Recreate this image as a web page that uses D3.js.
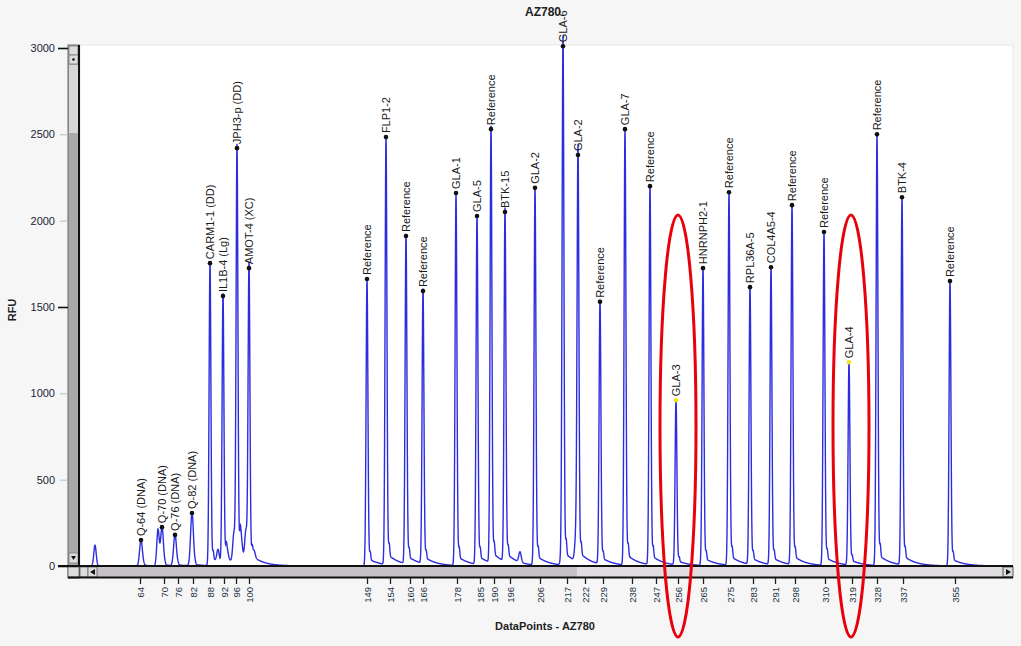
<!DOCTYPE html>
<html>
<head>
<meta charset="utf-8">
<script src="https://cdn.jsdelivr.net/npm/d3@7"></script>
<style>
  body { margin: 0; background: #f6f6f6; }
  text { font-family: "Liberation Sans", Arial, sans-serif; }
</style>
</head>
<body>
<svg width="1021" height="646"></svg>
<script>
// labelled peaks: name, position in data points, height in RFU
const peakNames = ["Q-64 (DNA)", "Q-70 (DNA)", "Q-76 (DNA)", "Q-82 (DNA)", "CARM1-1 (DD)", "IL1B-4 (Lg)", "JPH3-p (DD)", "AMOT-4 (XC)",
  "Reference", "FLP1-2", "Reference", "Reference", "GLA-1", "GLA-5", "Reference", "BTK-15", "GLA-2", "GLA-6", "GLA-2",
  "Reference", "GLA-7", "Reference", "GLA-3", "HNRNPH2-1", "Reference", "RPL36A-5", "COL4A5-4", "Reference",
  "Reference", "GLA-4", "Reference", "BTK-4", "Reference"]
const peakDP = [305, 410, 475, 560, 650, 715, 785, 845,
  1435, 1530, 1630, 1715, 1880, 1985, 2055, 2125, 2275, 2415, 2490,
  2600, 2725, 2850, 2980, 3115, 3245, 3350, 3455, 3560,
  3720, 3845, 3985, 4110, 4350]
const peakRFU = [150, 225, 180, 307, 1754, 1563, 2420, 1725,
  1662, 2484, 1911, 1592, 2160, 2027, 2530, 2050, 2190, 3010, 2380,
  1530, 2530, 2200, 960, 1725, 2165, 1615, 1730, 2090,
  1934, 1180, 2500, 2136, 1650]
// peaks flagged with a yellow marker
const flagged = ["GLA-3", "GLA-4"]

// small unlabelled peaks
const minorDP = [75, 390, 690, 735, 770, 805, 830, 870, 2200, 2410, 2480]
const minorRFU = [120, 210, 70, 60, 170, 120, 170, 40, 60, 80, 150]

// size-standard ticks on the DataPoints axis
const sizeLabels = ["64", "70", "76", "82", "88", "92", "96", "100", "149", "154", "160", "166", "178", "185", "190", "196",
  "206", "217", "222", "229", "238", "247", "256", "265", "275", "283", "291", "298", "310", "319", "328", "337", "355"]
const sizeDP = [300, 420, 490, 565, 650, 720, 780, 845, 1435, 1550, 1650, 1715, 1885, 2000, 2070, 2150,
  2300, 2435, 2525, 2615, 2760, 2880, 2990, 3115, 3250, 3365, 3475, 3575, 3725, 3860, 3985, 4115, 4375]

const yTicks = [0, 500, 1000, 1500, 2000, 2500, 3000]
const yMajor = [0, 1500, 3000]

const svg = d3.select("svg")
const pLeft = 80, pRight = 1013, pTop = 45, base = 566

const x = d3.scaleLinear().domain([0, 4665]).range([pLeft, pRight])
const y = d3.scaleLinear().domain([0, 3000]).range([base, 48])

// plot area
svg.append("rect").attr("x", pLeft).attr("y", pTop).attr("width", pRight - pLeft).attr("height", base - pTop)
  .attr("fill", "#fff").attr("stroke", "#e6e6e6")

// trace built from the peaks
const peaks = peakDP.map((d, i) => ({ dp: d, h: peakRFU[i], s: i < 4 ? 7 : 4.5, tail: true }))
  .concat(minorDP.map((d, i) => ({ dp: d, h: minorRFU[i], s: 6, tail: false })))

function signal(p) {
  let v = 0
  peaks.forEach(pk => {
    const d = p - pk.dp
    v += pk.h * Math.exp(-d * d / (2 * pk.s * pk.s))
    if (pk.tail && d > 0) {
      v += pk.h * 0.03 * (1 - Math.exp(-d / 8)) * Math.exp(-d / 55)
      v += pk.h * 0.03 * Math.exp(-(d - 16) * (d - 16) / 18)
    }
  })
  return v
}
const trace = d3.range(0, 4660, 1).map(p => [p, signal(p)])

svg.append("path")
  .datum(trace)
  .attr("fill", "none")
  .attr("stroke", "#2c2ce0")
  .attr("stroke-width", 1.4)
  .attr("d", d3.line().x(d => x(d[0])).y(d => y(d[1])))

// peak markers and names
const g = svg.append("g")
const pk = g.selectAll("g.peak").data(peakNames).join("g").attr("class", "peak")
pk.append("circle")
  .attr("cx", (d, i) => x(peakDP[i]))
  .attr("cy", (d, i) => y(peakRFU[i]))
  .attr("r", 2.3)
  .attr("fill", d => flagged.includes(d) ? "#f2e21a" : "#111")
pk.append("text")
  .attr("transform", (d, i) => "translate(" + x(peakDP[i]) + "," + (y(peakRFU[i]) - 4) + ") rotate(-90)")
  .attr("dy", "0.35em")
  .attr("font-size", "11px")
  .attr("fill", "#1a1a1a")
  .text(d => d)

// left scrollbar
svg.append("rect").attr("x", 68).attr("y", pTop).attr("width", 11).attr("height", base - pTop + 12)
  .attr("fill", "#a9a9a9").attr("stroke", "#666")
svg.append("rect").attr("x", 69).attr("y", 65).attr("width", 9).attr("height", 68).attr("fill", "#d6d6d6")
svg.append("rect").attr("x", 69).attr("y", 46).attr("width", 9).attr("height", 9).attr("fill", "#ddd").attr("stroke", "#888")
svg.append("rect").attr("x", 69).attr("y", 55).attr("width", 9).attr("height", 9).attr("fill", "#ddd").attr("stroke", "#888")
svg.append("circle").attr("cx", 73.5).attr("cy", 59.5).attr("r", 1.3).attr("fill", "#111")
svg.append("rect").attr("x", 69).attr("y", 553).attr("width", 9).attr("height", 10).attr("fill", "#ddd").attr("stroke", "#888")
svg.append("path").attr("d", "M71,556 L76,556 L73.5,560 Z").attr("fill", "#111")
svg.append("line").attr("x1", 79).attr("x2", 79).attr("y1", pTop).attr("y2", 578).attr("stroke", "#111").attr("stroke-width", 2)

// bottom scrollbar
svg.append("rect").attr("x", pLeft).attr("y", base + 1).attr("width", pRight - pLeft).attr("height", 10).attr("fill", "#e0dde0")
svg.append("rect").attr("x", 97).attr("y", base + 1).attr("width", 480).attr("height", 10).attr("fill", "#c4c2c6")
svg.append("rect").attr("x", 68).attr("y", base + 1).attr("width", 11).attr("height", 10).attr("fill", "#ddd").attr("stroke", "#777")
svg.append("rect").attr("x", 80).attr("y", base + 1).attr("width", 8).attr("height", 10).attr("fill", "#ddd").attr("stroke", "#777")
svg.append("rect").attr("x", 88).attr("y", base + 1).attr("width", 9).attr("height", 10).attr("fill", "#ddd").attr("stroke", "#777")
svg.append("path").attr("d", "M95,569 L95,575 L90,572 Z").attr("fill", "#111")
svg.append("rect").attr("x", pRight - 10).attr("y", base + 1).attr("width", 10).attr("height", 10).attr("fill", "#ddd").attr("stroke", "#555")
svg.append("path").attr("d", "M1006,569 L1006,575 L1011,572 Z").attr("fill", "#111")
svg.append("line").attr("x1", 58).attr("x2", pRight).attr("y1", base).attr("y2", base).attr("stroke", "#111").attr("stroke-width", 2)
svg.append("line").attr("x1", 68).attr("x2", pRight).attr("y1", base + 11.5).attr("y2", base + 11.5).attr("stroke", "#111").attr("stroke-width", 2)

// y axis
const ya = svg.append("g").attr("transform", "translate(68,0)")
  .call(d3.axisLeft(y).tickValues(yTicks).tickFormat(d3.format("d")).tickSize(10).tickPadding(3))
ya.select(".domain").remove()
ya.selectAll(".tick line")
  .attr("stroke", d => yMajor.includes(d) ? "#111" : "#bbb")
  .attr("stroke-width", d => yMajor.includes(d) ? 1.6 : 1)
  .attr("x2", d => yMajor.includes(d) ? -10 : -8)
ya.selectAll(".tick text").attr("font-size", "11px").attr("fill", "#223").attr("font-family", "Liberation Sans, Arial, sans-serif")

// x axis (size labels)
const xa = svg.append("g").attr("transform", "translate(0," + (base + 12) + ")")
  .call(d3.axisBottom(x).tickValues(sizeDP).tickFormat((d, i) => sizeLabels[i]).tickSize(6))
xa.select(".domain").remove()
xa.selectAll(".tick line").attr("stroke", "#222").attr("stroke-width", 1.3)
xa.selectAll(".tick text")
  .attr("transform", "rotate(-90)")
  .attr("x", -9).attr("y", 0).attr("dy", "0.32em")
  .attr("text-anchor", "end")
  .attr("font-size", "9.5px")
  .attr("fill", "#234")
  .attr("font-family", "Liberation Sans, Arial, sans-serif")

// titles
svg.append("text").attr("x", 543).attr("y", 16).attr("text-anchor", "middle")
  .attr("font-size", "12px").attr("font-weight", "bold").attr("fill", "#222").text("AZ780")
svg.append("text").attr("x", 545).attr("y", 630).attr("text-anchor", "middle")
  .attr("font-size", "11px").attr("font-weight", "bold").attr("fill", "#222").text("DataPoints - AZ780")
svg.append("text").attr("transform", "translate(16,310) rotate(-90)").attr("text-anchor", "middle")
  .attr("font-size", "11px").attr("font-weight", "bold").attr("fill", "#222").text("RFU")

// red highlight ellipses round the flagged peaks
svg.selectAll("ellipse.hl").data(flagged).join("ellipse").attr("class", "hl")
  .attr("cx", d => x(peakDP[peakNames.indexOf(d)]) + 2)
  .attr("cy", 426)
  .attr("rx", 18)
  .attr("ry", 211)
  .attr("fill", "none")
  .attr("stroke", "#e8000b")
  .attr("stroke-width", 3)
</script>
</body>
</html>
